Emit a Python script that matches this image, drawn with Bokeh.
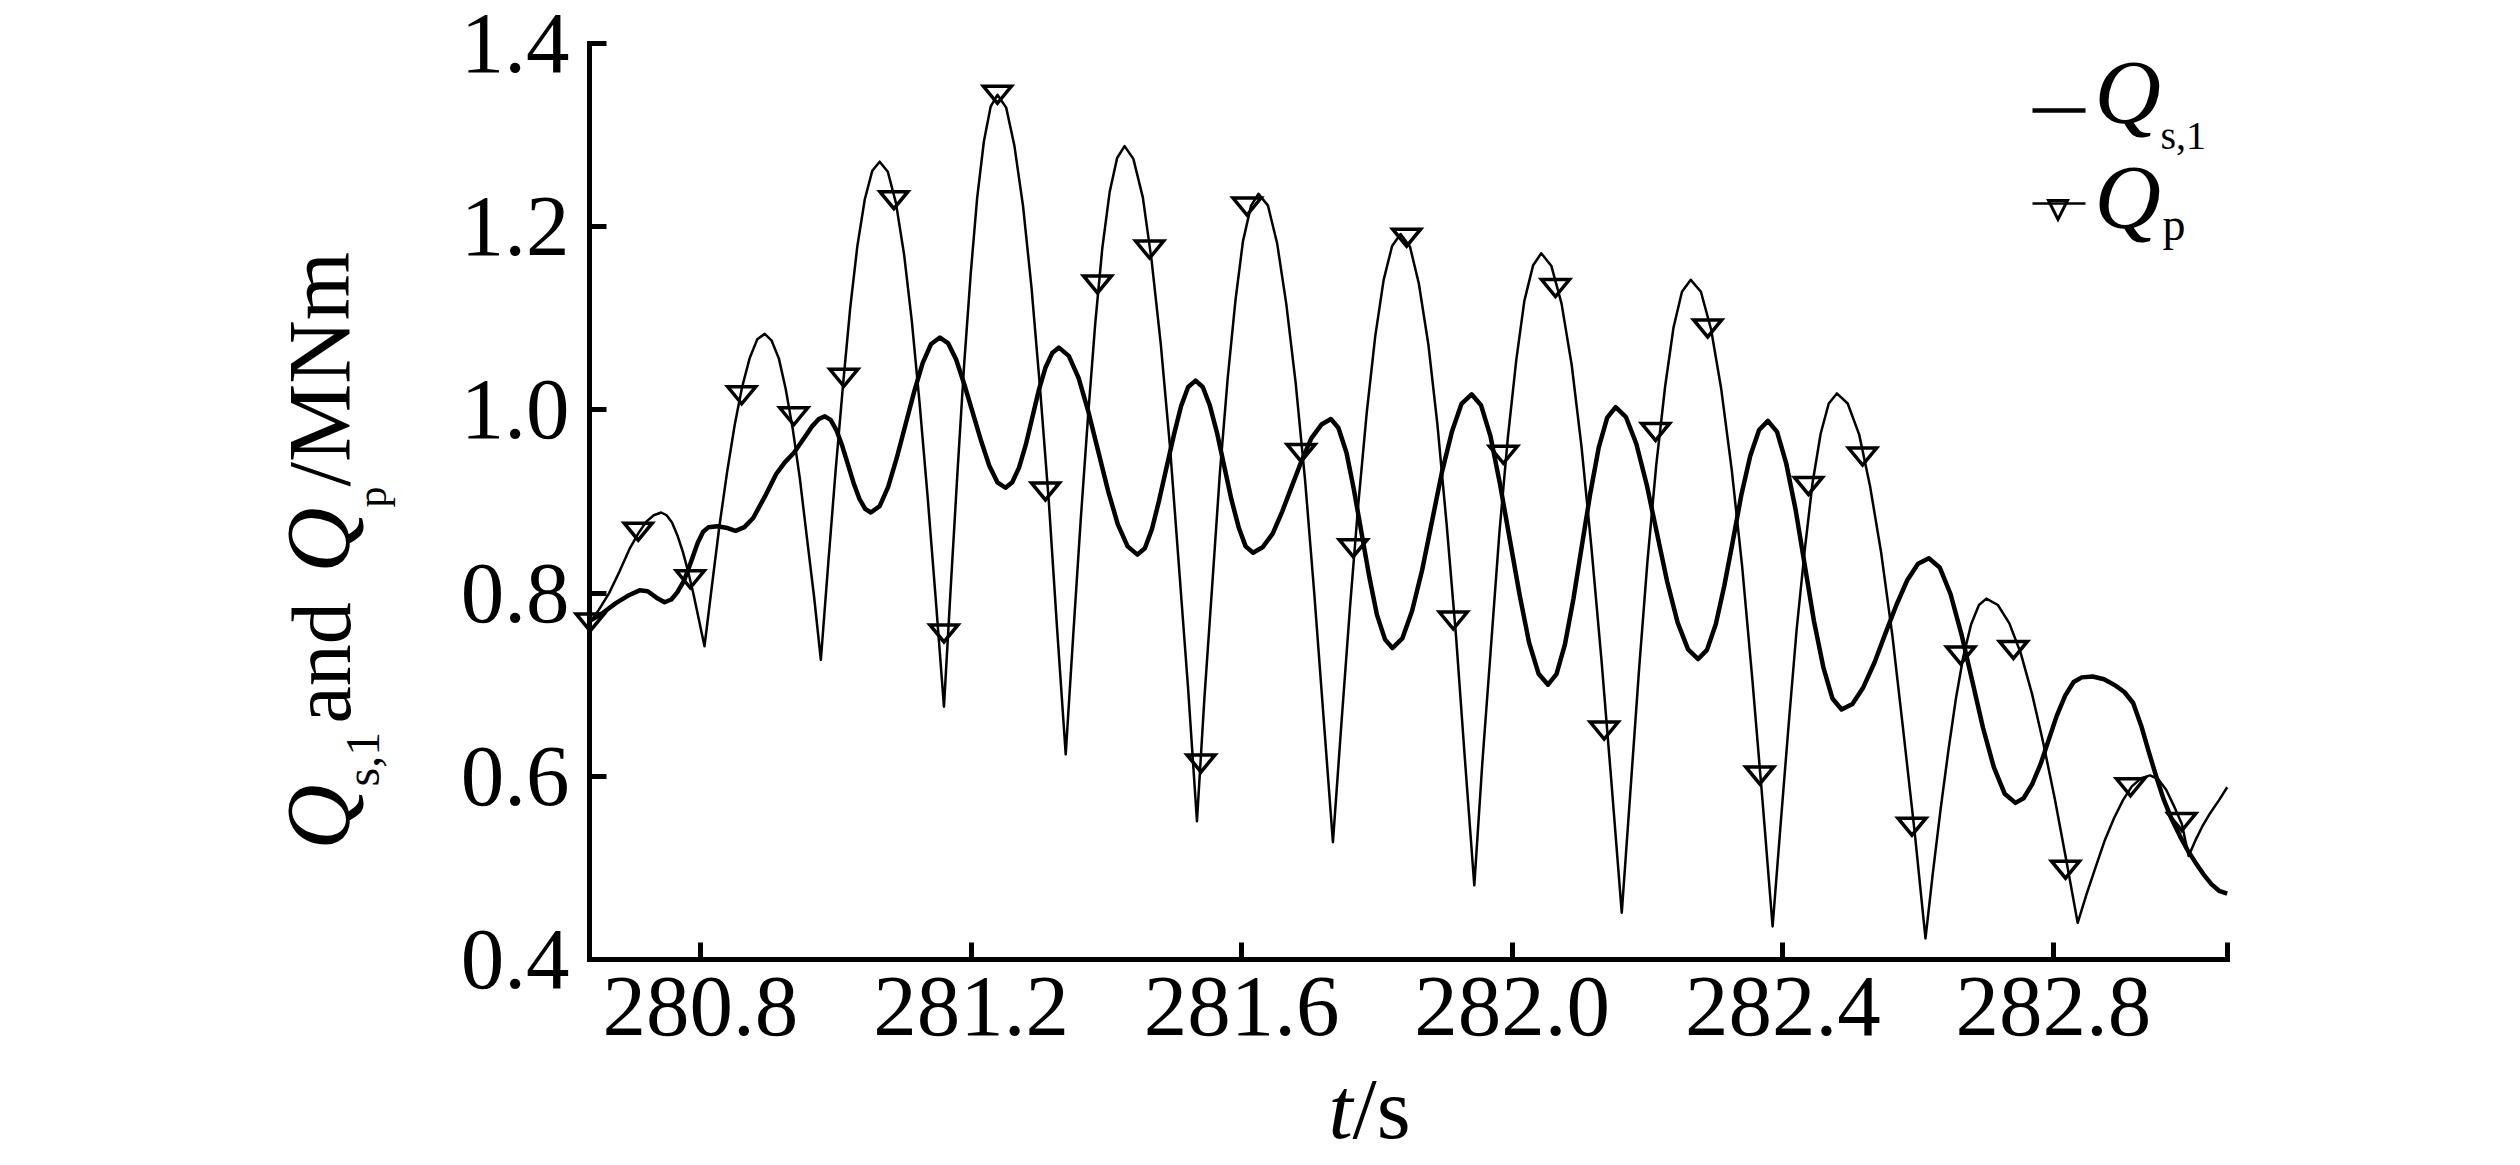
import math
from bokeh.plotting import figure
from bokeh.models import Range1d, FixedTicker, PrintfTickFormatter, Label
from bokeh.embed import file_html
from bokeh.resources import INLINE

# ---------------- data ----------------
qs1_t = [280.637, 280.655, 280.675, 280.695, 280.710, 280.722, 280.735, 280.747, 280.757, 280.766,
         280.776, 280.786, 280.796, 280.804, 280.812, 280.825, 280.840, 280.852, 280.865, 280.878,
         280.895, 280.912, 280.925, 280.938, 280.952, 280.965, 280.975, 280.984,
         280.9925, 281.001, 281.0095, 281.018, 281.0265, 281.035, 281.0435, 281.052,
         281.065, 281.0775, 281.090, 281.103, 281.116, 281.1285, 281.141, 281.154,
         281.166, 281.178, 281.190, 281.2025, 281.215, 281.227, 281.239, 281.251,
         281.261, 281.271, 281.281, 281.2905, 281.300, 281.310, 281.320, 281.330,
         281.3445, 281.359, 281.3735, 281.388, 281.4025, 281.417, 281.4315, 281.446,
         281.457, 281.4675, 281.478, 281.489, 281.500, 281.5105, 281.521, 281.532,
         281.5426, 281.553, 281.564, 281.5745, 281.585, 281.596, 281.606, 281.617,
         281.631, 281.646, 281.660, 281.6745, 281.689, 281.703, 281.718, 281.732,
         281.743, 281.755, 281.766, 281.7775, 281.789, 281.800, 281.812, 281.823,
         281.8376, 281.852, 281.867, 281.8815, 281.896, 281.911, 281.925, 281.940,
         281.954, 281.968, 281.982, 281.9965, 282.011, 282.025, 282.039, 282.053,
         282.0655, 282.078, 282.0905, 282.103, 282.1155, 282.128, 282.1405, 282.153,
         282.168, 282.1835, 282.199, 282.214, 282.229, 282.2445, 282.260, 282.275,
         282.288, 282.301, 282.3136, 282.3265, 282.339, 282.352, 282.365, 282.378,
         282.3916, 282.405, 282.419, 282.4325, 282.446, 282.460, 282.4734, 282.487,
         282.503, 282.519, 282.5355, 282.5515, 282.568, 282.584, 282.600, 282.616,
         282.632, 282.648, 282.664, 282.680, 282.696, 282.712, 282.728, 282.744,
         282.756, 282.7685, 282.781, 282.793, 282.805, 282.8175, 282.830, 282.842,
         282.858, 282.875, 282.892, 282.905, 282.918, 282.930, 282.941, 282.952,
         282.963, 282.975, 282.987, 282.998, 283.010, 283.022, 283.034, 283.045, 283.057]
qs1_q = [0.770, 0.778, 0.789, 0.798, 0.803, 0.802, 0.795, 0.790, 0.793, 0.801,
         0.814, 0.834, 0.855, 0.867, 0.872, 0.873, 0.871, 0.868, 0.872, 0.882,
         0.905, 0.930, 0.943, 0.953, 0.968, 0.982, 0.990, 0.993,
         0.989, 0.978, 0.961, 0.9405, 0.920, 0.903, 0.892, 0.888,
         0.895, 0.916, 0.947, 0.9835, 1.020, 1.051, 1.072, 1.079,
         1.073, 1.055, 1.028, 0.997, 0.966, 0.939, 0.921, 0.915,
         0.921, 0.937, 0.962, 0.9915, 1.021, 1.046, 1.062, 1.068,
         1.059, 1.035, 0.998, 0.955, 0.912, 0.875, 0.851, 0.842,
         0.849, 0.870, 0.901, 0.937, 0.973, 1.004, 1.025, 1.032,
         1.025, 1.005, 0.974, 0.938, 0.902, 0.871, 0.851, 0.844,
         0.850, 0.865, 0.889, 0.917, 0.945, 0.969, 0.984, 0.990,
         0.9805, 0.9535, 0.913, 0.865, 0.817, 0.7765, 0.7495, 0.740,
         0.7505, 0.7805, 0.8255, 0.8785, 0.9315, 0.9765, 1.0065, 1.017,
         1.005, 0.971, 0.919, 0.8585, 0.798, 0.746, 0.712, 0.700,
         0.7115, 0.744, 0.7935, 0.8515, 0.909, 0.959, 0.9915, 1.003,
         0.9925, 0.963, 0.918, 0.8655, 0.813, 0.768, 0.7385, 0.728,
         0.738, 0.766, 0.808, 0.858, 0.908, 0.950, 0.978, 0.988,
         0.976, 0.942, 0.891, 0.8305, 0.770, 0.719, 0.685, 0.673,
         0.679, 0.697, 0.724, 0.7555, 0.787, 0.814, 0.832, 0.838,
         0.828, 0.799, 0.7555, 0.7045, 0.653, 0.610, 0.581, 0.571,
         0.576, 0.591, 0.613, 0.6395, 0.666, 0.688, 0.703, 0.708,
         0.709, 0.706, 0.699, 0.692, 0.680, 0.655, 0.627, 0.600,
         0.575, 0.553, 0.535, 0.520, 0.506, 0.493, 0.482, 0.475, 0.472]

qp_t = [280.637, 280.650, 280.665, 280.680, 280.695, 280.708, 280.720, 280.731, 280.742,
        280.750, 280.758, 280.766, 280.774, 280.782, 280.790, 280.798, 280.806,
        280.817, 280.828, 280.8394, 280.8505, 280.8616, 280.873, 280.884, 280.895,
        280.905, 280.916, 280.926, 280.9365, 280.947, 280.957, 280.968, 280.978,
        280.989, 281.000, 281.011, 281.0215, 281.032, 281.043, 281.054, 281.065,
        281.077, 281.089, 281.101, 281.1125, 281.124, 281.136, 281.148, 281.160,
        281.170, 281.180, 281.1896, 281.1995, 281.209, 281.219, 281.229, 281.239,
        281.252, 281.264, 281.277, 281.2895, 281.302, 281.315, 281.327, 281.340,
        281.351, 281.362, 281.373, 281.3835, 281.394, 281.405, 281.416, 281.427,
        281.440, 281.454, 281.467, 281.4805, 281.494, 281.507, 281.521, 281.534,
        281.545, 281.557, 281.568, 281.5795, 281.591, 281.602, 281.614, 281.625,
        281.639, 281.6525, 281.666, 281.680, 281.694, 281.7075, 281.721, 281.735,
        281.7475, 281.760, 281.7725, 281.785, 281.7975, 281.810, 281.8225, 281.835,
        281.849, 281.862, 281.876, 281.8895, 281.903, 281.917, 281.930, 281.944,
        281.956, 281.969, 281.981, 281.9935, 282.006, 282.018, 282.031, 282.043,
        282.058, 282.073, 282.088, 282.1025, 282.117, 282.132, 282.147, 282.162,
        282.175, 282.1875, 282.200, 282.213, 282.226, 282.2385, 282.251, 282.264,
        282.279, 282.294, 282.309, 282.3245, 282.340, 282.355, 282.370, 282.385,
        282.397, 282.409, 282.4205, 282.4325, 282.444, 282.456, 282.468, 282.480,
        282.496, 282.513, 282.529, 282.5455, 282.562, 282.578, 282.595, 282.611,
        282.622, 282.6335, 282.645, 282.656, 282.667, 282.6785, 282.690, 282.701,
        282.718, 282.735, 282.752, 282.7685, 282.785, 282.802, 282.819, 282.836,
        282.849, 282.863, 282.876, 282.8895, 282.903, 282.916, 282.930, 282.943,
        282.955, 282.967, 282.978, 282.990, 283.000, 283.010, 283.020, 283.032, 283.045, 283.057]
qp_q = [0.768, 0.782, 0.800, 0.823, 0.848, 0.865, 0.878, 0.885, 0.888,
        0.885, 0.877, 0.863, 0.845, 0.823, 0.798, 0.770, 0.742,
        0.808, 0.873, 0.932, 0.983, 1.025, 1.057, 1.077, 1.083,
        1.076, 1.056, 1.023, 0.979, 0.925, 0.863, 0.796, 0.727,
        0.833, 0.935, 1.029, 1.112, 1.179, 1.230, 1.261, 1.271,
        1.260, 1.226, 1.170, 1.097, 1.007, 0.904, 0.792, 0.676,
        0.806, 0.932, 1.047, 1.148, 1.231, 1.293, 1.331, 1.344,
        1.330, 1.289, 1.222, 1.133, 1.024, 0.900, 0.764, 0.624,
        0.753, 0.878, 0.993, 1.093, 1.176, 1.238, 1.275, 1.288,
        1.274, 1.232, 1.163, 1.072, 0.961, 0.833, 0.695, 0.551,
        0.685, 0.813, 0.932, 1.035, 1.120, 1.184, 1.223, 1.236,
        1.223, 1.182, 1.116, 1.029, 0.922, 0.799, 0.666, 0.528,
        0.657, 0.782, 0.897, 0.997, 1.080, 1.142, 1.179, 1.192,
        1.178, 1.138, 1.072, 0.984, 0.876, 0.753, 0.620, 0.481,
        0.616, 0.745, 0.865, 0.969, 1.054, 1.119, 1.158, 1.171,
        1.157, 1.116, 1.049, 0.960, 0.851, 0.727, 0.591, 0.451,
        0.586, 0.716, 0.835, 0.940, 1.025, 1.090, 1.129, 1.142,
        1.129, 1.088, 1.023, 0.935, 0.829, 0.706, 0.574, 0.436,
        0.549, 0.659, 0.760, 0.847, 0.920, 0.974, 1.007, 1.018,
        1.007, 0.973, 0.917, 0.844, 0.754, 0.651, 0.539, 0.423,
        0.495, 0.565, 0.629, 0.685, 0.731, 0.766, 0.787, 0.794,
        0.787, 0.767, 0.734, 0.690, 0.637, 0.576, 0.509, 0.440,
        0.471, 0.502, 0.530, 0.554, 0.574, 0.589, 0.598, 0.601,
        0.597, 0.585, 0.568, 0.548, 0.513, 0.530, 0.545, 0.560, 0.574, 0.588]

marker_t = [280.637, 280.708, 280.785, 280.861, 280.938, 281.012, 281.086, 281.160, 281.239, 281.310,
            281.387, 281.464, 281.540, 281.608, 281.688, 281.765, 281.844, 281.913, 281.987, 282.064,
            282.136, 282.212, 282.289, 282.366, 282.438, 282.518, 282.591, 282.663, 282.741, 282.818,
            282.914, 282.990]
marker_q = [0.768, 0.867, 0.815, 1.016, 0.993, 1.035, 1.229, 0.756, 1.344, 0.911,
            1.137, 1.175, 0.614, 1.222, 0.953, 0.849, 1.188, 0.770, 0.951, 1.133,
            0.650, 0.976, 1.089, 0.601, 0.917, 0.949, 0.545, 0.732, 0.738, 0.498,
            0.588, 0.550]

x_ticks = [280.8, 281.2, 281.6, 282.0, 282.4, 282.8]
x_tick_labels = ["280.8", "281.2", "281.6", "282.0", "282.4", "282.8"]
y_ticks = [0.4, 0.6, 0.8, 1.0, 1.2, 1.4]
y_tick_labels = ["0.4", "0.6", "0.8", "1.0", "1.2", "1.4"]

# ---------------- layout ----------------
T0, T1 = 280.636, 283.057       # extent of the time axis
Q0, Q1 = 0.4, 1.4               # extent of the value axis
W, H = 2520, 1165
PXS = 676.45                    # pixels per second
PYS = 916.0                     # pixels per MNm
CX, CY = 589, 959               # axis corner in canvas pixels

XS = T0 - CX / PXS
XE = T0 + (W - CX) / PXS
YS = Q0 - (H - CY) / PYS
YE = Q0 + CY / PYS

def fx(X):   # canvas pixel -> data x
    return XS + X / PXS

def fy(Y):   # canvas pixel -> data y
    return YE - Y / PYS

FONT = "Liberation Serif"
K = 0.43     # baseline correction, fraction of the font size

p = figure(width=W, height=H, x_range=Range1d(XS, XE), y_range=Range1d(YS, YE),
           output_backend="svg", toolbar_location=None,
           min_border_left=0, min_border_right=0, min_border_top=0, min_border_bottom=0)
p.outline_line_color = None
p.grid.visible = False
p.background_fill_color = "white"
p.border_fill_color = "white"

end_tick = T1 - 1e-4
p.xaxis.ticker = FixedTicker(ticks=x_ticks + [end_tick])
p.xaxis.formatter = PrintfTickFormatter(format="%.1f")
ov = {t: l for t, l in zip(x_ticks, x_tick_labels)}
ov[end_tick] = ""
p.xaxis.major_label_overrides = ov
p.yaxis.ticker = FixedTicker(ticks=y_ticks)
p.yaxis.formatter = PrintfTickFormatter(format="%.1f")
p.yaxis.major_label_overrides = {t: l for t, l in zip(y_ticks, y_tick_labels)}

p.xaxis.fixed_location = Q0
p.xaxis.bounds = (T0, T1)
p.yaxis.fixed_location = T0
p.yaxis.bounds = (Q0, Q1)

for ax in (p.xaxis[0], p.yaxis[0]):
    ax.axis_line_width = 5
    ax.axis_line_color = "black"
    ax.axis_line_cap = "square"
    ax.major_tick_line_width = 5
    ax.major_tick_line_color = "black"
    ax.major_tick_in = 17
    ax.major_tick_out = 0
    ax.minor_tick_line_color = None
    ax.major_label_text_font = FONT
    ax.major_label_text_font_size = "87px"
    ax.major_label_text_color = "black"
p.yaxis.major_label_standoff = 20
p.xaxis.major_label_standoff = 18

# ---------------- series ----------------
p.line(qp_t, qp_q, line_color="black", line_width=2.5, line_join="round")
p.line(qs1_t, qs1_q, line_color="black", line_width=4.5, line_join="round")

hw, hh = 14 / PXS, 8.5 / PYS
tri_xs = [[t - hw, t + hw, t] for t in marker_t]
tri_ys = [[q + hh, q + hh, q - hh] for q in marker_q]
p.patches(tri_xs, tri_ys, fill_alpha=0, line_color="black", line_width=3.5, line_join="miter")

# ---------------- texts ----------------
def lab(text, X, Y, size, italic=False, rotated=False):
    if rotated:
        x, y, ang = fx(X - K * size), fy(Y), math.pi / 2
    else:
        x, y, ang = fx(X), fy(Y - K * size), 0.0
    p.add_layout(Label(x=x, y=y, text=text, text_font=FONT,
                       text_font_size=f"{size}px",
                       text_font_style="italic" if italic else "normal",
                       text_color="black", angle=ang,
                       text_align="left", text_baseline="alphabetic"))

# y-axis title (rotated, reads bottom to top); X = baseline, Y = start
lab("Q", 357, 849, 90, True, True)
lab("s,1", 383, 786, 48, False, True)
lab("and", 357, 723, 84, False, True)
lab("Q", 357, 572, 90, True, True)
lab("p", 390, 507, 42, False, True)
lab("/MNm", 357, 486, 88, False, True)

# x-axis title
lab("t", 1328, 1145, 87, True)
lab("/s", 1352, 1145, 87, False)

# legend
p.line([fx(2032), fx(2085)], [fy(110), fy(110)], line_color="black", line_width=4.5)
lab("Q", 2094, 131, 92, True)
lab("s,1", 2160, 152, 40, False)
p.line([fx(2032), fx(2085)], [fy(203), fy(203)], line_color="black", line_width=2.5)
p.patches([[fx(2048), fx(2067), fx(2057.5)]], [[fy(200), fy(200), fy(219)]],
          fill_alpha=0, line_color="black", line_width=3, line_join="miter")
lab("Q", 2094, 236, 92, True)
lab("p", 2162, 244, 46, False)

open("out.html", "w").write(file_html(p, INLINE))
